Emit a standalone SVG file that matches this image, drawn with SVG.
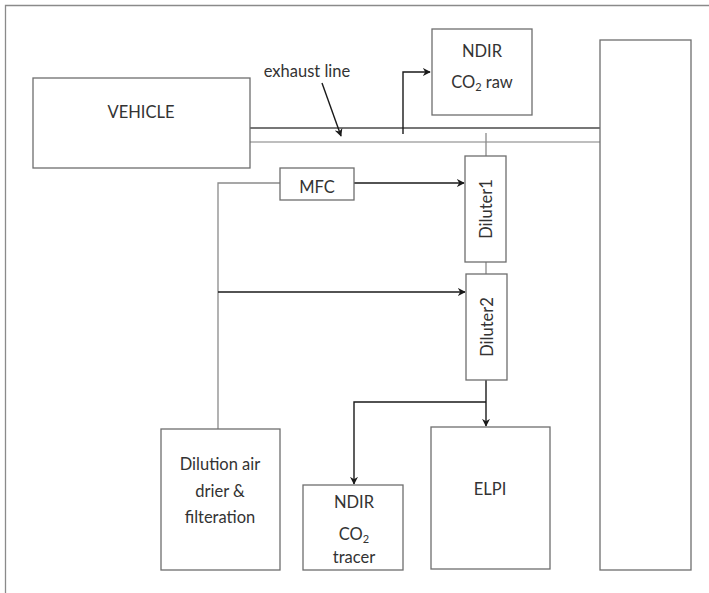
<svg xmlns="http://www.w3.org/2000/svg" width="709" height="593" viewBox="0 0 709 593">
<style>
.box{fill:#fff;stroke:#6e6e6e;stroke-width:1.3}
.t{font-family:Lato,"Open Sans","Liberation Sans",sans-serif;font-size:16.5px;fill:#333;text-anchor:middle}
.g{fill:none;stroke:#8a8a8a;stroke-width:1.3}
.k{fill:none;stroke:#1a1a1a;stroke-width:1.4}
</style>
<defs>
<marker id="ah" viewBox="0 0 10 10" refX="9" refY="5" markerWidth="8" markerHeight="8" markerUnits="userSpaceOnUse" orient="auto">
<path d="M0,0 L10,5 L0,10 L3,5 Z" fill="#1a1a1a"/>
</marker>
<marker id="av" viewBox="0 0 12 12" refX="11" refY="6" markerWidth="12" markerHeight="12" markerUnits="userSpaceOnUse" orient="auto">
<path d="M1,1 L11,6 L1,11" fill="none" stroke="#1a1a1a" stroke-width="1.6"/>
</marker>
</defs>
<rect width="709" height="593" fill="#fff"/>
<g id="frame">
<path d="M5.5,593 V5.5 H709" fill="none" stroke="#8a8a8a" stroke-width="1.3"/>
</g>
<g id="connectors">
<line x1="250" y1="128" x2="600" y2="128" stroke="#4a4a4a" stroke-width="1.6"/>
<line x1="250" y1="142" x2="600" y2="142" stroke="#a8a8a8" stroke-width="1.3"/>
<line class="k" x1="322" y1="83" x2="341" y2="136" marker-end="url(#ah)"/>
<path class="k" d="M403,134 V72 H430" marker-end="url(#ah)"/>
<line class="g" x1="486" y1="133" x2="486" y2="156"/>
<line class="g" x1="486" y1="262" x2="486" y2="274"/>
<path class="g" d="M280,183 H218 V429"/>
<line class="k" x1="354" y1="183" x2="464" y2="183" marker-end="url(#ah)"/>
<line class="k" x1="218" y1="292" x2="465" y2="292" marker-end="url(#ah)"/>
<line class="k" x1="486" y1="380" x2="486" y2="426" marker-end="url(#ah)"/>
<path class="k" d="M486,402 H354 V484" marker-end="url(#ah)"/>
<line x1="647" y1="262" x2="647" y2="379" stroke="#1a1a1a" stroke-width="1.6" marker-end="url(#av)"/>
</g>
<g id="vehicle">
<rect class="box" x="33" y="78" width="217" height="90"/>
<text class="t" x="141" y="118">VEHICLE</text>
</g>
<g id="exhaust-label">
<text class="t" x="307" y="77">exhaust line</text>
</g>
<g id="ndir-raw">
<rect class="box" x="432" y="29" width="100" height="86"/>
<text class="t" x="482" y="57">NDIR</text>
<text class="t" x="482" y="88">CO<tspan font-size="11" dy="3">2</tspan><tspan dy="-3"> raw</tspan></text>
</g>
<g id="tunnel">
<rect class="box" x="600" y="40" width="91" height="530"/>
</g>
<g id="mfc">
<rect class="box" x="280" y="168" width="74" height="32"/>
<text class="t" x="317" y="193">MFC</text>
</g>
<g id="diluter1">
<rect class="box" x="465" y="156" width="41" height="106"/>
<text class="t" transform="translate(492,209) rotate(-90)">Diluter1</text>
</g>
<g id="diluter2">
<rect class="box" x="466" y="274" width="41" height="106"/>
<text class="t" transform="translate(493,327) rotate(-90)">Diluter2</text>
</g>
<g id="dilution-air">
<rect class="box" x="161" y="429" width="119" height="141"/>
<text class="t" x="220" y="470">Dilution air</text>
<text class="t" x="220" y="497">drier &amp;</text>
<text class="t" x="220" y="523">filteration</text>
</g>
<g id="ndir-tracer">
<rect class="box" x="303" y="485" width="100" height="85"/>
<text class="t" x="354" y="508">NDIR</text>
<text class="t" x="354" y="540">CO<tspan font-size="11" dy="3">2</tspan></text>
<text class="t" x="354" y="563">tracer</text>
</g>
<g id="elpi">
<rect class="box" x="431" y="427" width="119" height="142"/>
<text class="t" x="490" y="495">ELPI</text>
</g>
</svg>
